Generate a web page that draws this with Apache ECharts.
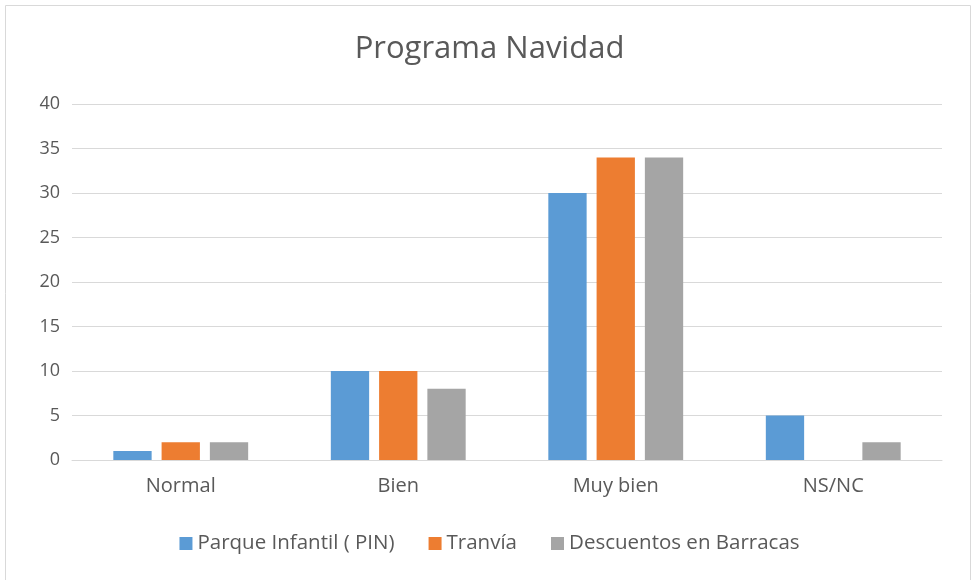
<!DOCTYPE html>
<html>
<head>
<meta charset="utf-8">
<script src="https://cdn.jsdelivr.net/npm/echarts@6/dist/echarts.min.js"></script>
<style>
  html, body { margin: 0; padding: 0; background: #fff; }
  #main { width: 979px; height: 580px; }
</style>
</head>
<body>
<div id="main"></div>
<script>
var categories = ['Normal', 'Bien', 'Muy bien', 'NS/NC'];
var seriesNames = ['Parque Infantil ( PIN)', 'Tranvía', 'Descuentos en Barracas'];
var parqueInfantil = [1, 10, 30, 5];
var tranvia = [2, 10, 34, 0];
var descuentos = [2, 8, 34, 2];

var chart = echarts.init(document.getElementById('main'));
var font = '"Open Sans", "Noto Sans", sans-serif';

chart.setOption({
  color: ['#5B9BD5', '#ED7D31', '#A5A5A5'],
  textStyle: { fontFamily: font },
  title: {
    text: 'Programa Navidad',
    left: 'center',
    top: 29,
    textStyle: { fontSize: 31, fontWeight: 'normal', color: '#595959', fontFamily: font }
  },
  // light frame around the chart, like the original screenshot
  graphic: [{
    type: 'rect',
    shape: { x: 5.5, y: 5.5, width: 965, height: 600 },
    style: { fill: 'none', stroke: '#d9d9d9', lineWidth: 1 },
    silent: true
  }],
  grid: { left: 72, right: 37, top: 104, bottom: 120 },
  legend: {
    data: seriesNames,
    bottom: 21,
    left: 'center',
    icon: 'rect',
    itemWidth: 13,
    itemHeight: 13,
    itemGap: 34,
    textStyle: { fontSize: 20.5, color: '#595959', fontFamily: font }
  },
  xAxis: {
    type: 'category',
    data: categories,
    axisLine: { lineStyle: { color: '#d9d9d9' } },
    axisTick: { show: false },
    axisLabel: { fontSize: 20, color: '#595959', margin: 16 }
  },
  yAxis: {
    type: 'value',
    min: 0,
    max: 40,
    interval: 5,
    axisLine: { show: false },
    axisTick: { show: false },
    splitLine: { lineStyle: { color: '#d9d9d9' } },
    axisLabel: { fontSize: 18, color: '#595959', margin: 12 }
  },
  series: [
    { name: seriesNames[0], type: 'bar', data: parqueInfantil, barGap: '26%', barCategoryGap: '38%' },
    { name: seriesNames[1], type: 'bar', data: tranvia, barGap: '26%', barCategoryGap: '38%' },
    { name: seriesNames[2], type: 'bar', data: descuentos, barGap: '26%', barCategoryGap: '38%' }
  ]
});
</script>
</body>
</html>
